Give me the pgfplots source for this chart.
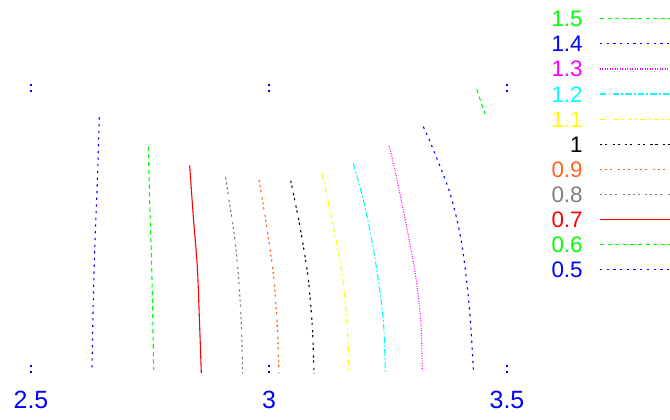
\documentclass[border=0pt]{standalone}
\usepackage{pgfplots}
\pgfplotsset{compat=1.18}
\usepackage{fontspec}
\setmainfont{Liberation Sans}
\definecolor{cgreen}{RGB}{0,255,0}
\definecolor{cblue}{RGB}{0,0,255}
\definecolor{cred}{RGB}{255,0,0}
\definecolor{cgray}{RGB}{128,128,128}
\definecolor{corange}{RGB}{255,100,30}
\definecolor{cyellow}{RGB}{255,255,0}
\definecolor{ccyan}{RGB}{0,255,255}
\definecolor{cmagenta}{RGB}{255,0,255}
\begin{document}
\begin{tikzpicture}
\useasboundingbox (0,0) rectangle (670bp,420bp);
\begin{axis}[
  at={(31bp,47bp)}, anchor=south west,
  scale only axis, width=476bp, height=289bp,
  xmin=2.5, xmax=3.5, ymin=47, ymax=336,
  xtick={2.5,3,3.5}, xticklabels={2.5,3,3.5},
  ytick=\empty,
  axis line style={draw=none},
  tick align=inside,
  major tick length=8bp,
  xtick style={color=cblue, line width=1.3bp, dash pattern=on 2.4bp off 3.6bp},
  xticklabel style={text=cblue, font=\fontsize{25}{30}\selectfont, inner sep=0pt, yshift=-18bp},
  /pgf/number format/assume math mode=true,
  legend plot pos=right,
  reverse legend,
  legend cell align=right,
  legend image code/.code={\draw[#1, line width=1.2bp] (0bp,0bp) -- (80bp,0bp);},
  legend style={draw=none, fill=none, inner sep=0pt, at={(1.0931,1.2540)}, anchor=north west,
    font=\fontsize{22.5}{27}\selectfont, row sep=9.1bp,
    nodes={inner sep=0pt, text height=16bp, text depth=0pt},
    /tikz/every odd column/.append style={column sep=16.7bp}},
  every axis plot/.append style={line width=1.1bp, smooth},
]
\addplot[cblue, dash pattern=on 2.3bp off 4.4bp] coordinates {(2.6435,302.7) (2.6393,236.7) (2.6345,180) (2.6309,120) (2.6282,52)};
\addlegendentry{\textcolor{cblue}{0.5}}
\addplot[cgreen, dash pattern=on 4.3bp off 3.3bp] coordinates {(2.7464,273.3) (2.75,207) (2.7536,153.3) (2.7578,50)};
\addlegendentry{\textcolor{cgreen}{0.6}}
\addplot[cred] coordinates {(2.8334,254.3) (2.841,203.3) (2.8494,153.3) (2.8536,103.3) (2.8578,46.7)};
\addlegendentry{\textcolor{cred}{0.7}}
\addplot[cgray, dash pattern=on 2.3bp off 2.7bp on 2.3bp off 2.7bp on 2.3bp off 2.7bp on 2.3bp off 5.3bp] coordinates {(2.909,242.7) (2.916,220) (2.9265,186.7) (2.9342,153.3) (2.9412,103.3) (2.9447,46.7)};
\addlegendentry{\textcolor{cgray}{0.8}}
\addplot[corange, dash pattern=on 2.3bp off 2.7bp on 2.3bp off 2.7bp on 2.3bp off 5.3bp] coordinates {(2.979,240) (2.9952,193.3) (3.0099,143.3) (3.0174,93.3) (3.021,46.7)};
\addlegendentry{\textcolor{corange}{0.9}}
\addplot[black, dash pattern=on 2.3bp off 2.7bp on 2.3bp off 5.3bp] coordinates {(3.0456,239.3) (3.0651,193.3) (3.0819,143.3) (3.091,93.3) (3.0945,46.7)};
\addlegendentry{\textcolor{black}{1}}
\addplot[cyellow, dash pattern=on 5.7bp off 3bp on 1.7bp off 3bp] coordinates {(3.112,246) (3.1351,193.3) (3.1534,146.7) (3.1645,93.3) (3.1674,50)};
\addlegendentry{\textcolor{cyellow}{1.1}}
\addplot[ccyan, dash pattern=on 6.5bp off 2.2bp on 1.7bp off 2.2bp] coordinates {(3.1771,256.7) (3.2032,210) (3.2254,153.3) (3.2401,100) (3.2443,48.3)};
\addlegendentry{\textcolor{ccyan}{1.2}}
\addplot[cmagenta, dash pattern=on 1bp off 1.5bp] coordinates {(3.2521,274) (3.2599,260) (3.2821,210) (3.3061,150) (3.3187,100) (3.3221,49.3)};
\addlegendentry{\textcolor{cmagenta}{1.3}}
\addplot[cblue, dash pattern=on 2.3bp off 4.4bp] coordinates {(3.3242,293.3) (3.3397,276.7) (3.3803,226.7) (3.4048,176.7) (3.4208,113.3) (3.4296,49)};
\addlegendentry{\textcolor{cblue}{1.4}}
\addplot[cgreen, dash pattern=on 4.3bp off 3.3bp] coordinates {(3.4363,330.7) (3.4538,306)};
\addlegendentry{\textcolor{cgreen}{1.5}}
\end{axis}
\end{tikzpicture}
\end{document}
